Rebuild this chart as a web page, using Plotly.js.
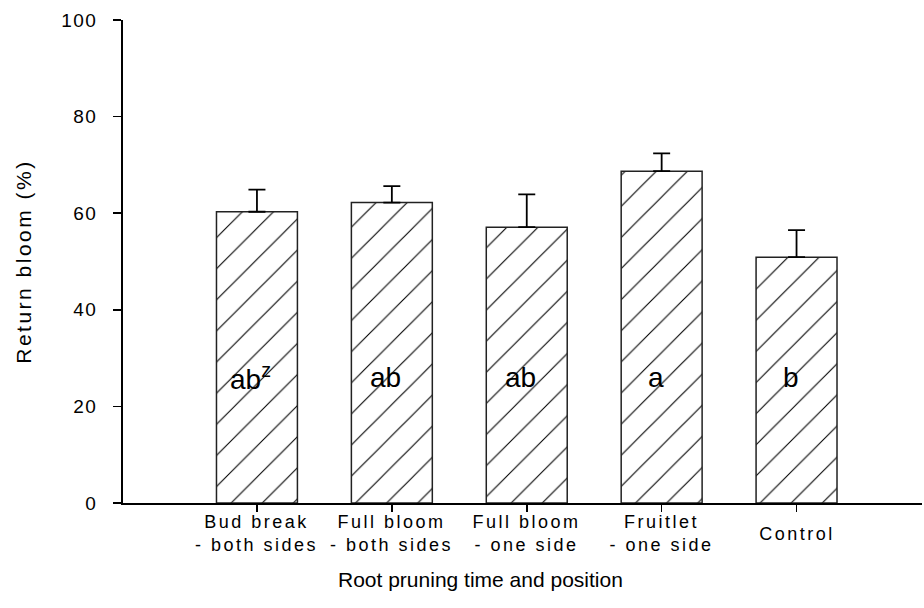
<!DOCTYPE html>
<html>
<head>
<meta charset="utf-8">
<script src="https://cdn.plot.ly/plotly-3.0.1.min.js"></script>
<style>
  html, body { margin: 0; padding: 0; background: #fff; }
  #chart { width: 924px; height: 608px; }
  .ytick text { letter-spacing: 1.5px; }
  .ytitle { letter-spacing: 2.5px; }
</style>
</head>
<body>
<div id="chart"></div>
<script>
// Root pruning treatments (x categories)
const categories = [
  'Bud break<br>- both sides',
  'Full bloom<br>- both sides',
  'Full bloom<br>- one side',
  'Fruitlet<br>- one side',
  'Control'
];
// Mean return bloom (%) and standard error for each treatment
const returnBloom = [60.3, 62.2, 57.1, 68.7, 50.9];
const stdError = [4.6, 3.4, 6.8, 3.7, 5.6];
// Mean separation letters
const meanSeparation = ['ab<sup>z</sup>', 'ab', 'ab', 'a', 'b'];
const yTicks = [0, 20, 40, 60, 80, 100];
const letterY = 26;

const FONT = 'Liberation Sans, Arial, Helvetica, sans-serif';

const trace = {
  type: 'bar',
  x: categories,
  y: returnBloom,
  width: 0.6,
  marker: {
    color: 'white',
    line: { color: '#222', width: 1.5 },
    pattern: { shape: '/', size: 22, solidity: 0.05, fgcolor: 'black', bgcolor: 'white' }
  },
  error_y: {
    type: 'data',
    symmetric: false,
    array: stdError,
    arrayminus: stdError.map(() => 0),
    color: 'black',
    thickness: 1.8,
    width: 8.5
  },
  hoverinfo: 'skip'
};

const annotations = [];
categories.forEach((c, i) => {
  annotations.push({
    x: c, xref: 'x', y: -0.064, yref: 'paper',
    text: c, showarrow: false, xanchor: 'center', yanchor: 'middle', align: 'center',
    font: { family: FONT, size: 18, color: 'black' }
  });
  annotations.push({
    x: c, xref: 'x', y: letterY, yref: 'y', xshift: -6,
    text: meanSeparation[i], showarrow: false, xanchor: 'center', yanchor: 'middle',
    font: { family: FONT, size: 28, color: 'black' }
  });
});
annotations.push({
  x: 0.448, xref: 'paper', y: -0.159, yref: 'paper',
  text: 'Root pruning time and position', showarrow: false,
  xanchor: 'center', yanchor: 'middle',
  font: { family: FONT, size: 21, color: 'black' }
});

const layout = {
  width: 924, height: 608,
  margin: { l: 123, r: 2, t: 20, b: 105, pad: 0 },
  paper_bgcolor: 'white', plot_bgcolor: 'white',
  showlegend: false,
  font: { family: FONT, color: 'black' },
  xaxis: {
    type: 'category',
    range: [-0.993, 4.93],
    showline: true, linecolor: 'black', linewidth: 2.2,
    ticks: 'outside', ticklen: 7, tickwidth: 1.5, tickcolor: 'black',
    showticklabels: false, showgrid: false, zeroline: false, fixedrange: true
  },
  yaxis: {
    range: [0, 100],
    tickvals: yTicks,
    ticktext: yTicks.map(String),
    showline: true, linecolor: 'black', linewidth: 1.8,
    ticks: 'outside', ticklen: 8, tickwidth: 1.5, tickcolor: 'black',
    ticklabelstandoff: 12,
    tickfont: { family: FONT, size: 19, color: 'black' },
    showgrid: false, zeroline: false, fixedrange: true,
    title: { text: 'Return bloom (%)', font: { family: FONT, size: 21, color: 'black' }, standoff: 24 }
  },
  annotations: annotations
};

Plotly.newPlot('chart', [trace], layout, { displayModeBar: false, staticPlot: true }).then(() => {
  // widen the tracking of the category labels
  document.querySelectorAll('.annotation').forEach(g => {
    const idx = +g.getAttribute('data-index');
    if (idx < 10 && idx % 2 === 0) {
      g.querySelectorAll('text').forEach(t => t.style.letterSpacing = '2.5px');
    }
  });
});
</script>
</body>
</html>
